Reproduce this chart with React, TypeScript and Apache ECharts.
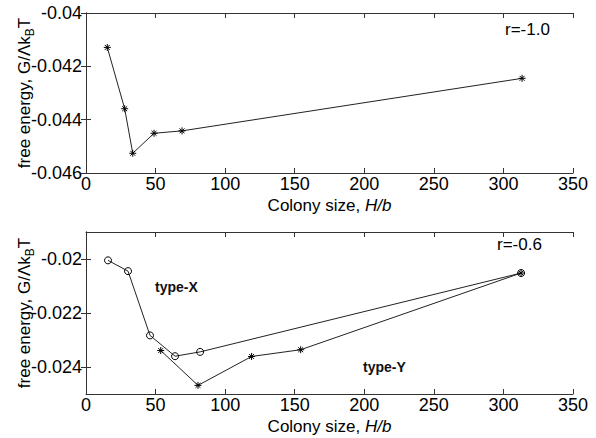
import React, { useEffect, useRef } from "react";
import * as echarts from "echarts";

const topX = [15.3, 27.8, 33.6, 48.9, 69, 313.4];
const topY = [-0.04129, -0.04359, -0.04526, -0.04451, -0.04442, -0.04245];
const typeXx = [15.8, 30.2, 46, 64, 82, 312.7];
const typeXy = [-0.02005, -0.02045, -0.02283, -0.0236, -0.02344, -0.02052];
const typeYx = [53.7, 80.5, 119, 154.3, 312.7];
const typeYy = [-0.02339, -0.02468, -0.02361, -0.02336, -0.02052];
const bottomTicks = [-0.024, -0.022, -0.02];

const FONT = "Arial, 'Liberation Sans', Helvetica, sans-serif";
const ASTERISK = "path://M0,5L10,5M5,0L5,10M1.5,1.5L8.5,8.5M1.5,8.5L8.5,1.5";

export default function App() {
  const ref = useRef<HTMLDivElement>(null);
  useEffect(() => {
    if (!ref.current) return;
    const chart = echarts.init(ref.current, null, { renderer: "svg" });
    const lineCol = "#222";
    const axisLine = { show: true, lineStyle: { color: "#333", width: 1 } };
    const xName = {
      name: "{n|Colony size, }{i|H/b}",
      nameLocation: "middle" as const,
      nameGap: 24,
      nameMoveOverlap: false,
      nameTextStyle: {
        rich: {
          n: { fontFamily: FONT, fontSize: 17, color: "#000", lineHeight: 16 },
          i: { fontFamily: FONT, fontSize: 17, color: "#000", fontStyle: "italic", lineHeight: 16 },
        },
      },
    };
    const yName = {
      name: "{n|free energy, G/Λk}{s|B}{n|T}",
      nameLocation: "middle" as const,
      nameGap: 50,
      nameMoveOverlap: false,
      nameTextStyle: {
        rich: {
          n: { fontFamily: FONT, fontSize: 17, color: "#000", lineHeight: 20 },
          s: { fontFamily: FONT, fontSize: 12, color: "#000", padding: [12, 0, 0, 0] },
        },
      },
    };
    const tick = { show: true, inside: true, length: 5, lineStyle: { color: "#333" } };
    const xMain = (gi: number) => ({
      type: "value" as const,
      gridIndex: gi,
      min: 0,
      max: 350,
      interval: 50,
      position: "bottom" as const,
      axisLine,
      axisTick: tick,
      axisLabel: { fontFamily: FONT, fontSize: 18, lineHeight: 15, color: "#000", margin: 3 },
      splitLine: { show: false },
      ...xName,
    });
    const xTop = (gi: number) => ({
      type: "value" as const,
      gridIndex: gi,
      min: 0,
      max: 350,
      interval: 50,
      position: "top" as const,
      axisLine,
      axisTick: tick,
      axisLabel: { show: false },
      splitLine: { show: false },
    });
    const option: any = {
      animation: false,
      backgroundColor: "#fff",
      grid: [
        { left: 86, right: 23, top: 13, height: 160, outerBoundsMode: "none", containLabel: false },
        { left: 86, right: 23, top: 232, height: 162, outerBoundsMode: "none", containLabel: false },
      ],
      xAxis: [xMain(0), xTop(0), xMain(1), xTop(1)],
      yAxis: [
        {
          type: "value",
          gridIndex: 0,
          min: -0.046,
          max: -0.04,
          interval: 0.002,
          position: "left",
          axisLine,
          axisTick: tick,
          axisLabel: { fontFamily: FONT, fontSize: 18, color: "#000", margin: 4 },
          splitLine: { show: false },
          ...yName,
        },
        {
          type: "value",
          gridIndex: 0,
          min: -0.046,
          max: -0.04,
          interval: 0.002,
          position: "right",
          axisLine,
          axisTick: tick,
          axisLabel: { show: false },
          splitLine: { show: false },
        },
        {
          type: "value",
          gridIndex: 1,
          min: -0.025,
          max: -0.019,
          position: "left",
          axisLine,
          axisTick: { ...tick, customValues: bottomTicks },
          axisLabel: { fontFamily: FONT, fontSize: 18, color: "#000", margin: 4, customValues: bottomTicks },
          splitLine: { show: false },
          ...yName,
        },
        {
          type: "value",
          gridIndex: 1,
          min: -0.025,
          max: -0.019,
          position: "right",
          axisLine,
          axisTick: { ...tick, customValues: bottomTicks },
          axisLabel: { show: false },
          splitLine: { show: false },
        },
      ],
      series: [
        {
          type: "line",
          xAxisIndex: 0,
          yAxisIndex: 0,
          data: topX.map((x, i) => [x, topY[i]]),
          symbol: ASTERISK,
          symbolSize: 7,
          lineStyle: { color: lineCol, width: 1 },
          itemStyle: { color: "none", borderColor: "#000", borderWidth: 1 },
        },
        {
          type: "line",
          xAxisIndex: 2,
          yAxisIndex: 2,
          data: typeXx.map((x, i) => [x, typeXy[i]]),
          symbol: "circle",
          symbolSize: 7,
          lineStyle: { color: lineCol, width: 1 },
          itemStyle: { color: "none", borderColor: "#000", borderWidth: 1 },
        },
        {
          type: "line",
          xAxisIndex: 2,
          yAxisIndex: 2,
          data: typeYx.map((x, i) => [x, typeYy[i]]),
          symbol: ASTERISK,
          symbolSize: 7,
          lineStyle: { color: lineCol, width: 1 },
          itemStyle: { color: "none", borderColor: "#000", borderWidth: 1 },
        },
      ],
      graphic: [
        { type: "text", left: 505, top: 21, style: { text: "r=-1.0", fontFamily: FONT, fontSize: 17, fill: "#000" } },
        { type: "text", left: 497, top: 236, style: { text: "r=-0.6", fontFamily: FONT, fontSize: 17, fill: "#000" } },
        { type: "text", left: 155, top: 280, style: { text: "type-X", fontFamily: FONT, fontSize: 14, fontWeight: "bold", fill: "#111" } },
        { type: "text", left: 363, top: 360, style: { text: "type-Y", fontFamily: FONT, fontSize: 14, fontWeight: "bold", fill: "#111" } },
      ],
    };
    chart.setOption(option);
    return () => chart.dispose();
  }, []);
  return (
    <div
      ref={ref}
      style={{ position: "fixed", left: 0, top: 0, width: 596, height: 438, background: "#fff" }}
    />
  );
}
